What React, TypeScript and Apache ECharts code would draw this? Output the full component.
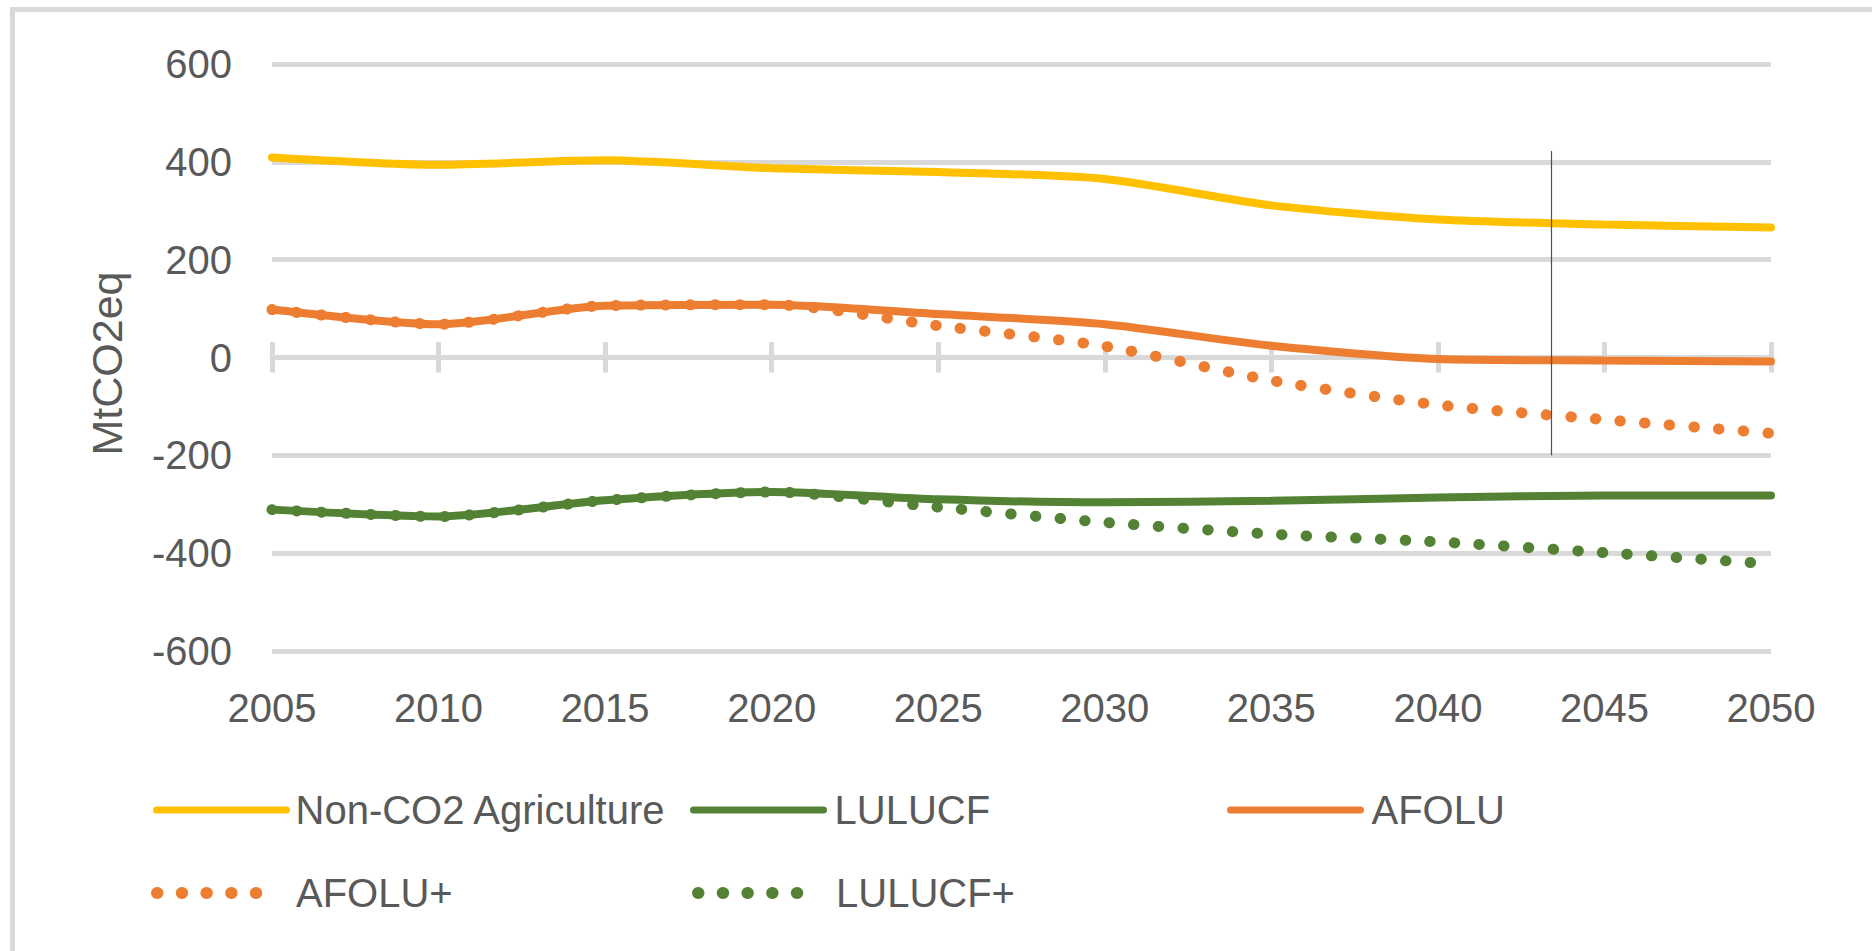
import React, { useEffect, useRef } from "react";
import * as echarts from "echarts";

const years = [2005, 2010, 2015, 2020, 2025, 2030, 2035, 2040, 2045, 2050];
const nonCO2Agriculture = [409, 394, 403, 387, 379, 365, 311, 282, 272, 266];
const lulucf = [-311, -325, -292, -275, -290, -296, -293, -286, -282, -282];
const afolu = [98, 68, 106, 108, 89, 68, 24, -3, -6, -8];
const afoluPlus = [98, 68, 106, 108, 65, 23, -47, -97, -127, -155];
const lulucfPlus = [-311, -325, -292, -275, -306, -337, -361, -377, -399, -422];

const yTicks = { min: -600, max: 600, interval: 200 };
const markerYear = 2043.4;
const markerRange = [422, -200];

const FONT = "'Liberation Sans', Arial, sans-serif";
const TEXT = "#595959";
const GRID = "#d9d9d9";
const YELLOW = "#FFC000";
const GREEN = "#548235";
const ORANGE = "#ED7D31";

const pairs = (vals: number[]) => years.map((y, i) => [y, vals[i]]);

export default function App() {
  const ref = useRef<HTMLDivElement>(null);
  useEffect(() => {
    if (!ref.current) return;
    const chart = echarts.init(ref.current, null, { renderer: "svg" });
    const solid = (name: string, color: string, vals: number[], extra: any = {}) => ({
      name,
      type: "line",
      data: pairs(vals),
      symbol: "none",
      smooth: 0.25,
      color,
      lineStyle: { color, width: 8, cap: "round" },
      z: 2,
      ...extra,
    });
    const dotted = (name: string, color: string, vals: number[]) => ({
      name,
      type: "line",
      data: pairs(vals),
      symbol: "none",
      smooth: 0.25,
      color,
      lineStyle: { color, width: 11, type: [0.5, 24.2], cap: "round" },
      z: 3,
    });
    const legendItem = (name: string, left: number, top: number, w: number, pad: number, lw: number) => ({
      data: [name],
      left,
      top,
      padding: 0,
      itemWidth: w,
      itemHeight: 14,
      itemStyle: { opacity: 0 },
      textStyle: {
        fontSize: 40,
        color: TEXT,
        fontFamily: FONT,
        padding: [0, 0, 0, pad],
      },
      lineStyle: { width: lw },
      selectedMode: false,
    });
    chart.setOption({
      animation: false,
      backgroundColor: "#ffffff",
      graphic: [
        { type: "rect", shape: { x: 10, y: 7, width: 1862, height: 5 }, style: { fill: GRID } },
        { type: "rect", shape: { x: 10, y: 7, width: 5, height: 944 }, style: { fill: GRID } },
      ],
      grid: { left: 272, right: 101, top: 64, bottom: 300, containLabel: false, outerBoundsMode: "none" },
      xAxis: [
        {
          type: "value",
          min: 2005,
          max: 2050,
          interval: 5,
          position: "bottom",
          axisLine: { show: true, onZero: true, lineStyle: { color: GRID, width: 5 } },
          axisTick: { show: true, length: 15, lineStyle: { color: GRID, width: 5 } },
          axisLabel: {
            margin: 37,
            fontSize: 40,
            color: TEXT,
            fontFamily: FONT,
            formatter: (v: number) => String(v),
          },
          splitLine: { show: false },
        },
        {
          type: "value",
          min: 2005,
          max: 2050,
          interval: 5,
          position: "top",
          offset: -295,
          axisLine: { show: false, onZero: false },
          axisTick: { show: true, length: 17, lineStyle: { color: GRID, width: 5 } },
          axisLabel: { show: false },
          splitLine: { show: false },
        },
      ],
      yAxis: {
        type: "value",
        min: yTicks.min,
        max: yTicks.max,
        interval: yTicks.interval,
        name: "MtCO2eq",
        nameLocation: "middle",
        nameGap: 144,
        nameTextStyle: { fontSize: 43, color: TEXT, fontFamily: FONT, padding: [0, 12, 0, 0] },
        axisLine: { show: false },
        axisTick: { show: false },
        axisLabel: { margin: 40, fontSize: 40, color: TEXT, fontFamily: FONT },
        splitLine: { lineStyle: { color: GRID, width: 5 } },
      },
      legend: [
        legendItem("Non-CO2 Agriculture", 153, 790, 130, 4, 7),
        legendItem("LULUCF", 690, 790, 130, 6, 7),
        legendItem("AFOLU", 1227, 790, 130, 6, 7),
        legendItem("AFOLU+", 151, 873, 110, 24, 12),
        legendItem("LULUCF+", 692, 873, 110, 23, 12),
      ],
      series: [
        solid("Non-CO2 Agriculture", YELLOW, nonCO2Agriculture),
        solid("LULUCF", GREEN, lulucf),
        solid("AFOLU", ORANGE, afolu, {
          markLine: {
            silent: true,
            symbol: "none",
            label: { show: false },
            lineStyle: { color: "#2e5e6e", width: 1.2, type: "solid" },
            data: [[{ coord: [markerYear, markerRange[0]] }, { coord: [markerYear, markerRange[1]] }]],
          },
        }),
        dotted("AFOLU+", ORANGE, afoluPlus),
        dotted("LULUCF+", GREEN, lulucfPlus),
      ],
    });
    return () => chart.dispose();
  }, []);
  return (
    <div
      ref={ref}
      style={{ position: "absolute", left: 0, top: 0, width: 1872, height: 951, background: "#fff" }}
    />
  );
}
